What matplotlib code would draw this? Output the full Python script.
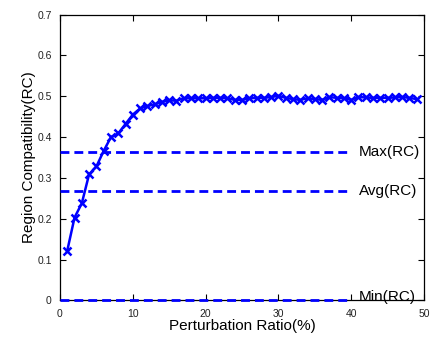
import matplotlib
matplotlib.use("Agg")
import matplotlib.pyplot as plt

plt.rcParams['font.family'] = ['Liberation Sans', 'DejaVu Sans']

ratio = list(range(1, 50))
rc = [0.122, 0.203, 0.238, 0.309, 0.328, 0.366, 0.400, 0.409, 0.432, 0.455,
      0.470, 0.476, 0.480, 0.486, 0.490, 0.489, 0.495, 0.495, 0.495, 0.495,
      0.496, 0.496, 0.495, 0.491, 0.491, 0.495, 0.496, 0.496, 0.498, 0.501,
      0.496, 0.493, 0.491, 0.495, 0.493, 0.491, 0.498, 0.496, 0.495, 0.491,
      0.498, 0.497, 0.496, 0.496, 0.496, 0.497, 0.498, 0.496, 0.493]

ref_names = ["Max(RC)", "Avg(RC)", "Min(RC)"]
ref_values = [0.363, 0.268, 0.0]
ref_text_y = [0.363, 0.268, 0.009]
ref_end = 40

xticks = [0, 10, 20, 30, 40, 50]
yticks = [0, 0.1, 0.2, 0.3, 0.4, 0.5, 0.6, 0.7]
ytick_labels = ["0", "0.1", "0.2", "0.3", "0.4", "0.5", "0.6", "0.7"]

fig = plt.figure(figsize=(4.3, 3.38), dpi=100)
ax = fig.add_axes([0.1395, 0.111, 0.8465, 0.846])

blue = (0, 0, 1)
for v in ref_values:
    ax.plot([0, ref_end], [v, v], color=blue, lw=2.0, dashes=(3.2, 1.8),
            clip_on=False, zorder=4)
for name, ty in zip(ref_names, ref_text_y):
    ax.text(41.1, ty, name, fontsize=11, va='center', ha='left', clip_on=False)

ax.plot(ratio, rc, color=blue, lw=1.8, marker='x', ms=5.5, mew=1.8, zorder=3)

ax.set_xlim(0, 50)
ax.set_ylim(0, 0.7)
ax.set_xticks(xticks)
ax.set_xticklabels([str(t) for t in xticks])
ax.set_yticks(yticks)
ax.set_yticklabels(ytick_labels)
ax.tick_params(direction='in', top=True, right=True, labelsize=7.5, length=4,
               width=0.8, pad=6, labelcolor='#222222')
for s in ax.spines.values():
    s.set_linewidth(0.9)
ax.set_xlabel("Perturbation Ratio(%)", fontsize=11, labelpad=0)
ax.set_ylabel("Region Compatibility(RC)", fontsize=11, labelpad=1)

fig.savefig("out.png", dpi=100)
